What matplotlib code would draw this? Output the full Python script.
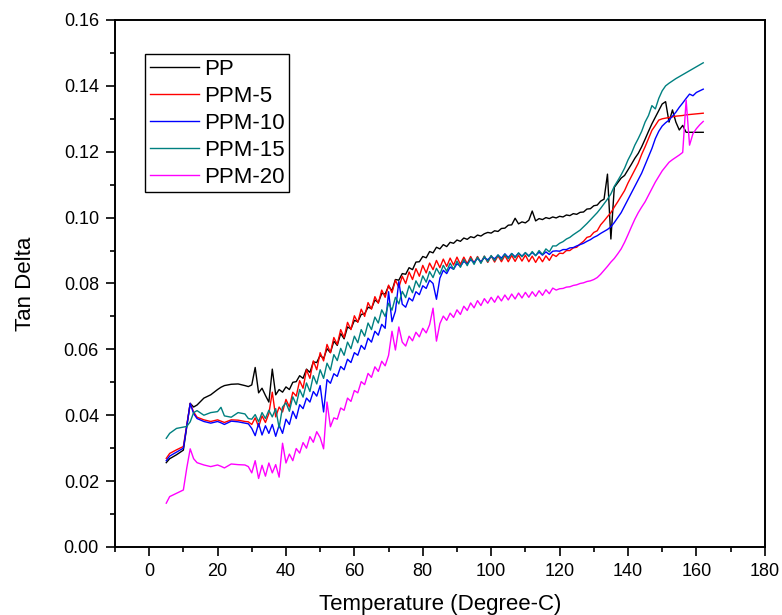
import matplotlib
matplotlib.use("Agg")
import matplotlib.pyplot as plt
from matplotlib.ticker import MultipleLocator

plt.rcParams['font.family'] = ['Liberation Sans', 'DejaVu Sans']

# temperature grid (degree C)
temp = [5, 6, 8, 10, 11, 12, 13, 14, 16, 18, 20, 21, 22, 24, 26, 28] + list(range(29, 163))

pp = [0.0256, 0.0268, 0.0280, 0.0294, 0.0365, 0.0436, 0.0425, 0.0431, 0.0452, 0.0462, 0.0478, 0.0485, 0.0490, 0.0494, 0.0495, 0.0490,
      0.0487, 0.0492, 0.0545, 0.0468, 0.0482, 0.0460, 0.0440, 0.0540, 0.0462, 0.0478,
      0.0470, 0.0486, 0.0478, 0.0500, 0.0502, 0.0520, 0.0512, 0.0540, 0.0530, 0.0562,
      0.0560, 0.0582, 0.0572, 0.0602, 0.0590, 0.0625, 0.0612, 0.0648, 0.0632, 0.0668,
      0.0662, 0.0688, 0.0684, 0.0706, 0.0708, 0.0728, 0.0724, 0.0750, 0.0742, 0.0770,
      0.0768, 0.0792, 0.0778, 0.0812, 0.0810, 0.0830, 0.0828, 0.0848, 0.0842, 0.0865,
      0.0866, 0.0882, 0.0878, 0.0897, 0.0893, 0.0910, 0.0905, 0.0918, 0.0912, 0.0925,
      0.0922, 0.0932, 0.0928, 0.0938, 0.0934, 0.0942, 0.0939, 0.0947, 0.0944, 0.0951,
      0.0955, 0.0953, 0.0960, 0.0958, 0.0967, 0.0968, 0.0977, 0.0978, 0.0998, 0.0981,
      0.0987, 0.0984, 0.0992, 0.1020, 0.0990, 0.0997, 0.0994, 0.1000, 0.0997, 0.1002,
      0.0999, 0.1004, 0.1002, 0.1008, 0.1006, 0.1012, 0.1010, 0.1016, 0.1017, 0.1026,
      0.1027, 0.1036, 0.1038, 0.1050, 0.1056, 0.1132, 0.0935, 0.1092, 0.1106, 0.1120,
      0.1128, 0.1145, 0.1162, 0.1180, 0.1195, 0.1215, 0.1238, 0.1262, 0.1285, 0.1305,
      0.1325, 0.1345, 0.1352, 0.1290, 0.1327, 0.1290, 0.1266, 0.1280, 0.1259, 0.1259,
      0.1259, 0.1259, 0.1259, 0.1259]

ppm5 = [0.0269, 0.0284, 0.0295, 0.0305, 0.0370, 0.0436, 0.0410, 0.0394, 0.0386, 0.0381, 0.0386, 0.0382, 0.0378, 0.0386, 0.0385, 0.0381,
        0.0380, 0.0372, 0.0392, 0.0365, 0.0398, 0.0378, 0.0405, 0.0470, 0.0395, 0.0425,
        0.0410, 0.0448, 0.0425, 0.0470, 0.0458, 0.0505, 0.0482, 0.0538, 0.0512, 0.0565,
        0.0538, 0.0590, 0.0565, 0.0615, 0.0590, 0.0636, 0.0615, 0.0660, 0.0636, 0.0682,
        0.0660, 0.0702, 0.0682, 0.0722, 0.0700, 0.0742, 0.0722, 0.0760, 0.0740, 0.0780,
        0.0758, 0.0795, 0.0772, 0.0810, 0.0788, 0.0822, 0.0800, 0.0835, 0.0812, 0.0845,
        0.0822, 0.0855, 0.0832, 0.0862, 0.0842, 0.0870, 0.0848, 0.0874, 0.0852, 0.0877,
        0.0856, 0.0880, 0.0858, 0.0880, 0.0860, 0.0882, 0.0862, 0.0882, 0.0863, 0.0883,
        0.0864, 0.0884, 0.0865, 0.0884, 0.0866, 0.0885, 0.0866, 0.0885, 0.0867, 0.0886,
        0.0868, 0.0886, 0.0866, 0.0883, 0.0864, 0.0882, 0.0866, 0.0884, 0.0870, 0.0888,
        0.0882, 0.0892, 0.0891, 0.0900, 0.0900, 0.0908, 0.0910, 0.0920, 0.0928, 0.0940,
        0.0943, 0.0955, 0.0960, 0.0978, 0.0990, 0.1003, 0.1015, 0.1032, 0.1048, 0.1065,
        0.1082, 0.1105, 0.1125, 0.1145, 0.1165, 0.1192, 0.1215, 0.1240, 0.1265, 0.1280,
        0.1296, 0.1300, 0.1302, 0.1304, 0.1306, 0.1308, 0.1309, 0.1310, 0.1312, 0.1313,
        0.1314, 0.1315, 0.1316, 0.1317]

ppm10 = [0.0262, 0.0276, 0.0288, 0.0300, 0.0368, 0.0436, 0.0405, 0.0390, 0.0381, 0.0376, 0.0381, 0.0377, 0.0372, 0.0382, 0.0380, 0.0376,
         0.0374, 0.0360, 0.0338, 0.0375, 0.0340, 0.0368, 0.0345, 0.0372, 0.0336, 0.0370,
         0.0345, 0.0388, 0.0372, 0.0412, 0.0390, 0.0432, 0.0420, 0.0452, 0.0440, 0.0472,
         0.0458, 0.0490, 0.0410, 0.0508, 0.0497, 0.0526, 0.0518, 0.0548, 0.0538, 0.0570,
         0.0560, 0.0590, 0.0582, 0.0612, 0.0600, 0.0634, 0.0622, 0.0655, 0.0643, 0.0676,
         0.0664, 0.0775, 0.0684, 0.0716, 0.0806, 0.0737, 0.0728, 0.0756, 0.0747, 0.0775,
         0.0766, 0.0793, 0.0785, 0.0810, 0.0800, 0.0752, 0.0816, 0.0840, 0.0830, 0.0850,
         0.0843, 0.0860, 0.0852, 0.0867, 0.0859, 0.0872, 0.0864, 0.0876, 0.0866, 0.0878,
         0.0872, 0.0882, 0.0875, 0.0886, 0.0877, 0.0890, 0.0879, 0.0891, 0.0881, 0.0892,
         0.0883, 0.0893, 0.0884, 0.0894, 0.0885, 0.0895, 0.0886, 0.0896, 0.0888, 0.0898,
         0.0899, 0.0898, 0.0903, 0.0903, 0.0908, 0.0909, 0.0914, 0.0918, 0.0922, 0.0928,
         0.0933, 0.0940, 0.0945, 0.0952, 0.0958, 0.0964, 0.0972, 0.0985, 0.1000, 0.1015,
         0.1035, 0.1055, 0.1075, 0.1095, 0.1115, 0.1135, 0.1160, 0.1185, 0.1210, 0.1240,
         0.1262, 0.1278, 0.1288, 0.1296, 0.1308, 0.1320, 0.1335, 0.1348, 0.1362, 0.1375,
         0.1370, 0.1380, 0.1385, 0.1390]

ppm15 = [0.0330, 0.0345, 0.0360, 0.0364, 0.0366, 0.0380, 0.0408, 0.0414, 0.0400, 0.0408, 0.0411, 0.0424, 0.0398, 0.0394, 0.0408, 0.0404,
         0.0390, 0.0388, 0.0402, 0.0380, 0.0408, 0.0390, 0.0415, 0.0395, 0.0420, 0.0362,
         0.0425, 0.0438, 0.0412, 0.0456, 0.0432, 0.0478, 0.0455, 0.0498, 0.0472, 0.0520,
         0.0495, 0.0538, 0.0512, 0.0558, 0.0537, 0.0584, 0.0566, 0.0603, 0.0582, 0.0622,
         0.0602, 0.0640, 0.0620, 0.0660, 0.0640, 0.0680, 0.0660, 0.0698, 0.0680, 0.0720,
         0.0700, 0.0740, 0.0719, 0.0758, 0.0738, 0.0776, 0.0757, 0.0793, 0.0772, 0.0808,
         0.0789, 0.0823, 0.0804, 0.0836, 0.0818, 0.0846, 0.0828, 0.0855, 0.0837, 0.0862,
         0.0843, 0.0868, 0.0849, 0.0873, 0.0854, 0.0877, 0.0858, 0.0880, 0.0861, 0.0883,
         0.0866, 0.0885, 0.0869, 0.0887, 0.0872, 0.0889, 0.0875, 0.0891, 0.0878, 0.0893,
         0.0881, 0.0894, 0.0882, 0.0897, 0.0884, 0.0900, 0.0888, 0.0905, 0.0896, 0.0914,
         0.0914, 0.0922, 0.0927, 0.0935, 0.0940, 0.0948, 0.0955, 0.0962, 0.0972, 0.0982,
         0.0993, 0.1004, 0.1015, 0.1028, 0.1042, 0.1056, 0.1072, 0.1095, 0.1112, 0.1130,
         0.1150, 0.1175, 0.1195, 0.1220, 0.1240, 0.1262, 0.1290, 0.1310, 0.1340, 0.1330,
         0.1362, 0.1385, 0.1400, 0.1408, 0.1415, 0.1422, 0.1428, 0.1434, 0.1440, 0.1446,
         0.1452, 0.1458, 0.1464, 0.1470]

ppm20 = [0.0133, 0.0153, 0.0163, 0.0173, 0.0240, 0.0298, 0.0268, 0.0256, 0.0249, 0.0244, 0.0249, 0.0245, 0.0240, 0.0252, 0.0250, 0.0249,
         0.0244, 0.0225, 0.0262, 0.0208, 0.0248, 0.0215, 0.0255, 0.0225, 0.0250, 0.0212,
         0.0315, 0.0255, 0.0282, 0.0262, 0.0299, 0.0285, 0.0317, 0.0300, 0.0335, 0.0318,
         0.0350, 0.0332, 0.0298, 0.0440, 0.0365, 0.0392, 0.0388, 0.0422, 0.0415, 0.0452,
         0.0442, 0.0475, 0.0468, 0.0502, 0.0493, 0.0527, 0.0515, 0.0547, 0.0533, 0.0564,
         0.0550, 0.0582, 0.0655, 0.0598, 0.0668, 0.0622, 0.0610, 0.0640, 0.0626, 0.0652,
         0.0638, 0.0664, 0.0650, 0.0675, 0.0725, 0.0625, 0.0678, 0.0701, 0.0688, 0.0710,
         0.0697, 0.0720, 0.0706, 0.0731, 0.0718, 0.0741, 0.0726, 0.0748, 0.0733, 0.0754,
         0.0740, 0.0758, 0.0743, 0.0762, 0.0747, 0.0765, 0.0750, 0.0768, 0.0753, 0.0771,
         0.0756, 0.0773, 0.0758, 0.0775, 0.0761, 0.0778, 0.0764, 0.0781, 0.0769, 0.0786,
         0.0780, 0.0784, 0.0785, 0.0789, 0.0790, 0.0794, 0.0796, 0.0800, 0.0802, 0.0806,
         0.0808, 0.0812, 0.0818, 0.0828, 0.0840, 0.0852, 0.0865, 0.0876, 0.0890, 0.0905,
         0.0925, 0.0948, 0.0972, 0.0995, 0.1015, 0.1032, 0.1048, 0.1068, 0.1088, 0.1108,
         0.1125, 0.1142, 0.1155, 0.1168, 0.1176, 0.1183, 0.1190, 0.1198, 0.1357, 0.1220,
         0.1255, 0.1270, 0.1282, 0.1292]

labels = ["PP", "PPM-5", "PPM-10", "PPM-15", "PPM-20"]
colors = ["black", "#FF0000", "#0000FF", "#008080", "#FF00FF"]

fig = plt.figure(figsize=(7.82, 6.15), dpi=100)
ax = fig.add_axes([0.147, 0.1106, 0.831, 0.8569])

for series, lab, col in zip([pp, ppm5, ppm10, ppm15, ppm20], labels, colors):
    ax.plot(temp, series, color=col, lw=1.0, label=lab)

ax.set_xlim(-10, 180)
ax.set_ylim(0, 0.16)
ax.xaxis.set_major_locator(MultipleLocator(20))
ax.xaxis.set_minor_locator(MultipleLocator(10))
ax.yaxis.set_major_locator(MultipleLocator(0.02))
ax.yaxis.set_minor_locator(MultipleLocator(0.01))
ax.yaxis.set_major_formatter(plt.FormatStrFormatter('%.2f'))

for s in ax.spines.values():
    s.set_linewidth(1.4)
ax.tick_params(which='major', direction='out', length=6.5, width=1.2, labelsize=13, pad=5)
ax.tick_params(which='minor', direction='out', length=3.6, width=1.2)

ax.set_xlabel("Temperature (Degree-C)", fontsize=16, labelpad=10)
ax.set_ylabel("Tan Delta", fontsize=16, labelpad=20)

leg = ax.legend(loc='upper left', bbox_to_anchor=(0.047, 0.935), fontsize=16, handlelength=2.2,
                labelspacing=0.27, handletextpad=0.25, borderpad=0.2, borderaxespad=0.0,
                fancybox=False, framealpha=1)
leg.get_frame().set_edgecolor('black')
leg.get_frame().set_linewidth(1.0)

fig.savefig("out.png", dpi=100)
